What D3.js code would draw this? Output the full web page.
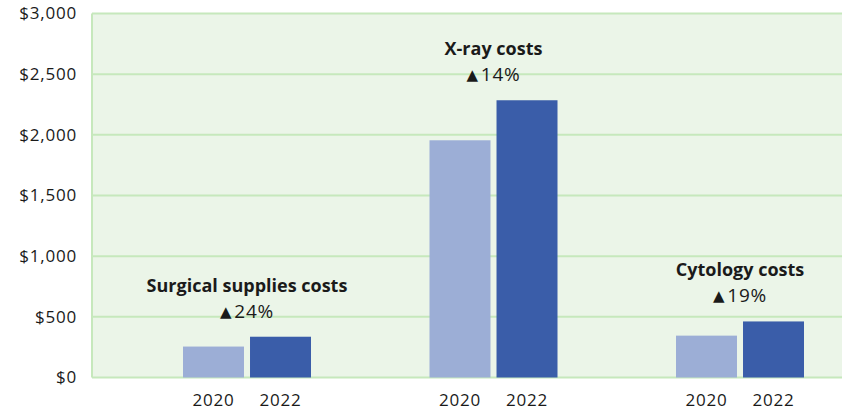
<!DOCTYPE html>
<html>
<head>
<meta charset="utf-8">
<script src="https://cdn.jsdelivr.net/npm/d3@7"></script>
<style>
  body { margin: 0; background: #fff; }
  svg text { font-family: "Open Sans", Lato, sans-serif; fill: #1a1a1a; }
</style>
</head>
<body>
<svg></svg>
<script>
'use strict';

// data
var categories = ["Surgical supplies costs", "X-ray costs", "Cytology costs"];
var years = ["2020", "2022"];
var values2020 = [255, 1955, 345];
var values2022 = [336, 2285, 462];
var changes = ["24%", "14%", "19%"];
var yTicks = [0, 500, 1000, 1500, 2000, 2500, 3000];

var width = 843, height = 411;
var plot = {left: 92, top: 13.5, right: 842, bottom: 377.5};

var svg = d3.select("svg")
    .attr("width", width)
    .attr("height", height);

var y = d3.scaleLinear()
    .domain([0, 3000])
    .range([plot.bottom, plot.top]);

var x0 = d3.scaleBand()
    .domain(categories)
    .range([plot.left, 831.5]);

var x1 = d3.scaleBand()
    .domain(years)
    .range([91, 219])
    .paddingInner(0.09);

var color = d3.scaleOrdinal()
    .domain(years)
    .range(["#9caed6", "#3a5da9"]);

// plot background
svg.append("rect")
    .attr("x", plot.left)
    .attr("y", plot.top)
    .attr("width", plot.right - plot.left)
    .attr("height", plot.bottom - plot.top)
    .attr("fill", "#ebf5e8");

// gridlines
svg.append("g")
    .selectAll("line")
    .data(yTicks)
    .enter().append("line")
    .attr("x1", plot.left)
    .attr("x2", plot.right)
    .attr("y1", function(d) { return y(d); })
    .attr("y2", function(d) { return y(d); })
    .attr("stroke", "#c6e8bc")
    .attr("stroke-width", 2);

svg.append("line")
    .attr("x1", plot.left)
    .attr("x2", plot.left)
    .attr("y1", plot.top)
    .attr("y2", plot.bottom)
    .attr("stroke", "#c6e8bc")
    .attr("stroke-width", 2);

// y axis labels
var yAxis = d3.axisLeft(y)
    .tickValues(yTicks)
    .tickSize(0)
    .tickPadding(15)
    .tickFormat(function(d) { return "$" + d3.format(",")(d); });

var ya = svg.append("g")
    .attr("transform", "translate(" + plot.left + ",0)")
    .call(yAxis);
ya.select(".domain").remove();
ya.selectAll("text")
    .attr("font-size", 17)
    .attr("letter-spacing", 0.8)
    .style("font-family", "\"Open Sans\", sans-serif")
    .attr("fill", "#1a1a1a");

// bars
var rows = categories.map(function(c, i) {
    return {cat: c, vals: [values2020[i], values2022[i]], change: changes[i]};
});

var groups = svg.append("g")
    .selectAll("g")
    .data(rows)
    .enter().append("g")
    .attr("transform", function(d) { return "translate(" + x0(d.cat) + ",0)"; });

groups.selectAll("rect")
    .data(function(d) { return years.map(function(yr, j) { return {year: yr, value: d.vals[j]}; }); })
    .enter().append("rect")
    .attr("x", function(d) { return x1(d.year); })
    .attr("width", x1.bandwidth())
    .attr("y", function(d) { return y(d.value); })
    .attr("height", function(d) { return y(0) - y(d.value); })
    .attr("fill", function(d) { return color(d.year); });

// year labels under each bar
groups.selectAll("text.year")
    .data(years)
    .enter().append("text")
    .attr("class", "year")
    .attr("x", function(d) { return x1(d) + x1.bandwidth() / 2; })
    .attr("y", 406)
    .attr("text-anchor", "middle")
    .attr("font-size", 17)
    .attr("letter-spacing", 0.8)
    .text(function(d) { return d; });

// category annotations
var mid = x1.range()[0] + (x1.range()[1] - x1.range()[0]) / 2;

groups.append("text")
    .attr("x", mid)
    .attr("y", function(d) { return y(d3.max(d.vals)) - 45; })
    .attr("text-anchor", "middle")
    .attr("font-size", 18)
    .attr("font-weight", "bold")
    .text(function(d) { return d.cat; });

var pct = groups.append("text")
    .attr("x", mid)
    .attr("y", function(d) { return y(d3.max(d.vals)) - 19; })
    .attr("text-anchor", "middle")
    .attr("font-size", 19)
    .attr("letter-spacing", 0.8);
pct.append("tspan")
    .attr("font-size", 15)
    .attr("dy", -1)
    .style("font-family", "\"DejaVu Sans\", sans-serif")
    .text("\u25B2");
pct.append("tspan")
    .attr("dy", 1)
    .attr("dx", 2)
    .text(function(d) { return d.change; });
</script>
</body>
</html>
